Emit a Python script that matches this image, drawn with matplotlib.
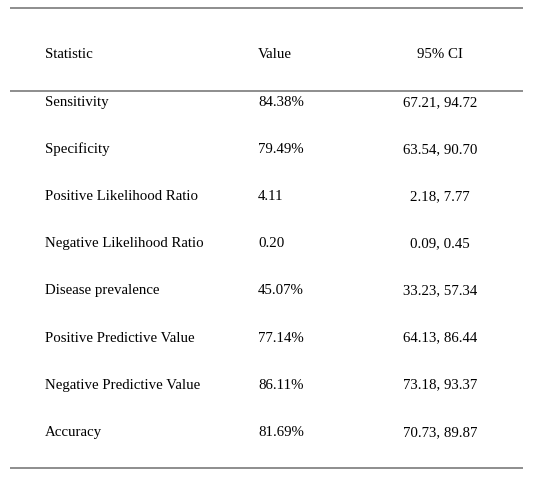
import matplotlib.pyplot as plt

plt.rcParams['font.family'] = ['Liberation Serif', 'DejaVu Serif']

headers = ["Statistic", "Value", "95% CI"]
stats = ["Sensitivity", "Specificity", "Positive Likelihood Ratio",
         "Negative Likelihood Ratio", "Disease prevalence",
         "Positive Predictive Value", "Negative Predictive Value", "Accuracy"]
values = [84.38, 79.49, 4.11, 0.20, 45.07, 77.14, 86.11, 81.69]
is_pct = [True, True, False, False, True, True, True, True]
ci_low = [67.21, 63.54, 2.18, 0.09, 33.23, 64.13, 73.18, 70.73]
ci_high = [94.72, 90.70, 7.77, 0.45, 57.34, 86.44, 93.37, 89.87]

W, H = 541, 480
fig = plt.figure(figsize=(W / 100, H / 100), dpi=100)
ax = fig.add_axes([0, 0, 1, 1])
ax.set_xlim(0, W)
ax.set_ylim(H, 0)
ax.axis('off')

x_stat, x_val, x_ci = 45, 258, 440
fs = 10.7
line_col = '#7a7a7a'

# rules
for y in [8, 91, 468]:
    ax.plot([10, 523], [y, y], color=line_col, lw=1.2, solid_capstyle='butt')

# header
ax.text(x_stat, 58.5, headers[0], fontsize=fs, ha='left', va='baseline')
ax.text(x_val, 58.5, headers[1], fontsize=fs, ha='left', va='baseline')
ax.text(x_ci, 58.5, headers[2], fontsize=fs, ha='center', va='baseline')

# body rows
row0, step = 106, 47.1
for i, name in enumerate(stats):
    y = row0 + i * step
    val = f"{values[i]:.2f}%" if is_pct[i] else f"{values[i]:.2f}"
    ax.text(x_stat, y, name, fontsize=fs, ha='left', va='baseline')
    ax.text(x_val, y, val, fontsize=fs, ha='left', va='baseline')
    ax.text(x_ci, y, f"{ci_low[i]:.2f}, {ci_high[i]:.2f}", fontsize=fs,
            ha='center', va='baseline')

fig.savefig('out.png', dpi=100, facecolor='white')
